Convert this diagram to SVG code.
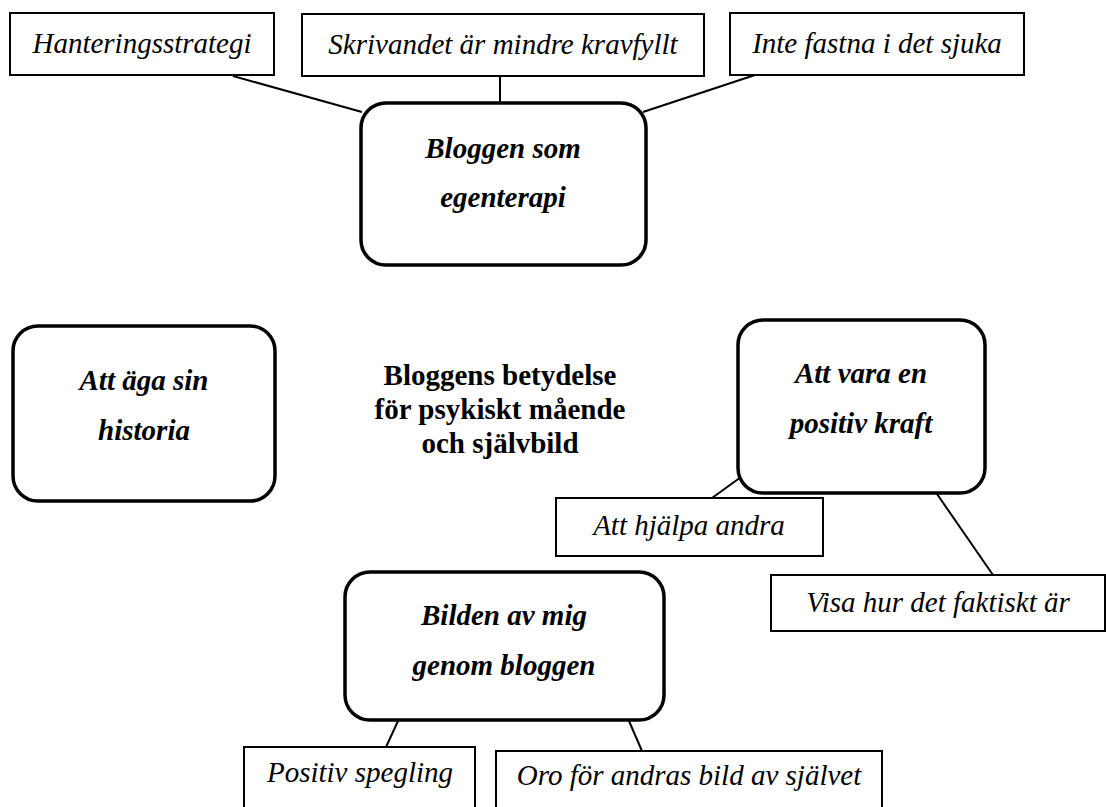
<svg xmlns="http://www.w3.org/2000/svg" width="1106" height="807" viewBox="0 0 1106 807">
<style>
.bg{fill:#ffffff}
.box{fill:#ffffff;stroke:#000000;stroke-width:2}
.rbox{fill:#ffffff;stroke:#000000;stroke-width:3.5}
.ln{stroke:#000000;stroke-width:2;fill:none}
text{font-family:"Liberation Serif","Times New Roman",serif;font-size:29px;fill:#000000;text-anchor:middle}
.it{font-style:italic}
.bi{font-style:italic;font-weight:bold}
.b{font-weight:bold}
</style>
<rect class="bg" x="0" y="0" width="1106" height="807"/>
<g id="connectors">
<line class="ln" x1="233" y1="76" x2="362" y2="112"/>
<line class="ln" x1="500" y1="76" x2="500" y2="103"/>
<line class="ln" x1="755" y1="75" x2="643" y2="112"/>
<line class="ln" x1="712" y1="498" x2="741" y2="477"/>
<line class="ln" x1="937" y1="494" x2="993" y2="575"/>
<line class="ln" x1="398" y1="721" x2="386" y2="747"/>
<line class="ln" x1="629" y1="721" x2="642" y2="751"/>
</g>
<g id="hanteringsstrategi">
<rect class="box" x="10" y="13" width="264" height="62"/>
<text class="it" x="142" y="53">Hanteringsstrategi</text>
</g>
<g id="skrivandet">
<rect class="box" x="302" y="14" width="402" height="62"/>
<text class="it" x="503" y="54">Skrivandet är mindre kravfyllt</text>
</g>
<g id="inte-fastna">
<rect class="box" x="730" y="13" width="294" height="62"/>
<text class="it" x="877" y="53">Inte fastna i det sjuka</text>
</g>
<g id="bloggen-egenterapi">
<rect class="rbox" x="361" y="103" width="285" height="162" rx="25" ry="25"/>
<text class="bi" x="503" y="158">Bloggen som</text>
<text class="bi" x="503" y="207">egenterapi</text>
</g>
<g id="att-aga">
<rect class="rbox" x="13" y="326" width="262" height="175" rx="25" ry="25"/>
<text class="bi" x="144" y="390">Att äga sin</text>
<text class="bi" x="144" y="440">historia</text>
</g>
<g id="title">
<text class="b" x="500" y="385">Bloggens betydelse</text>
<text class="b" x="500" y="419">för psykiskt mående</text>
<text class="b" x="500" y="453">och självbild</text>
</g>
<g id="positiv-kraft">
<rect class="rbox" x="738" y="320" width="247" height="173" rx="25" ry="25"/>
<text class="bi" x="861" y="383">Att vara en</text>
<text class="bi" x="861" y="433">positiv kraft</text>
</g>
<g id="hjalpa-andra">
<rect class="box" x="556" y="498" width="267" height="58"/>
<text class="it" x="689" y="535">Att hjälpa andra</text>
</g>
<g id="visa-hur">
<rect class="box" x="771" y="575" width="334" height="56"/>
<text class="it" x="938" y="612">Visa hur det faktiskt är</text>
</g>
<g id="bilden-av-mig">
<rect class="rbox" x="345" y="572" width="319" height="148" rx="25" ry="25"/>
<text class="bi" x="504" y="625">Bilden av mig</text>
<text class="bi" x="504" y="675">genom bloggen</text>
</g>
<g id="positiv-spegling">
<rect class="box" x="244" y="747" width="231" height="70"/>
<text class="it" x="360" y="782">Positiv spegling</text>
</g>
<g id="oro">
<rect class="box" x="496" y="751" width="386" height="70"/>
<text class="it" x="689" y="785">Oro för andras bild av självet</text>
</g>
</svg>
